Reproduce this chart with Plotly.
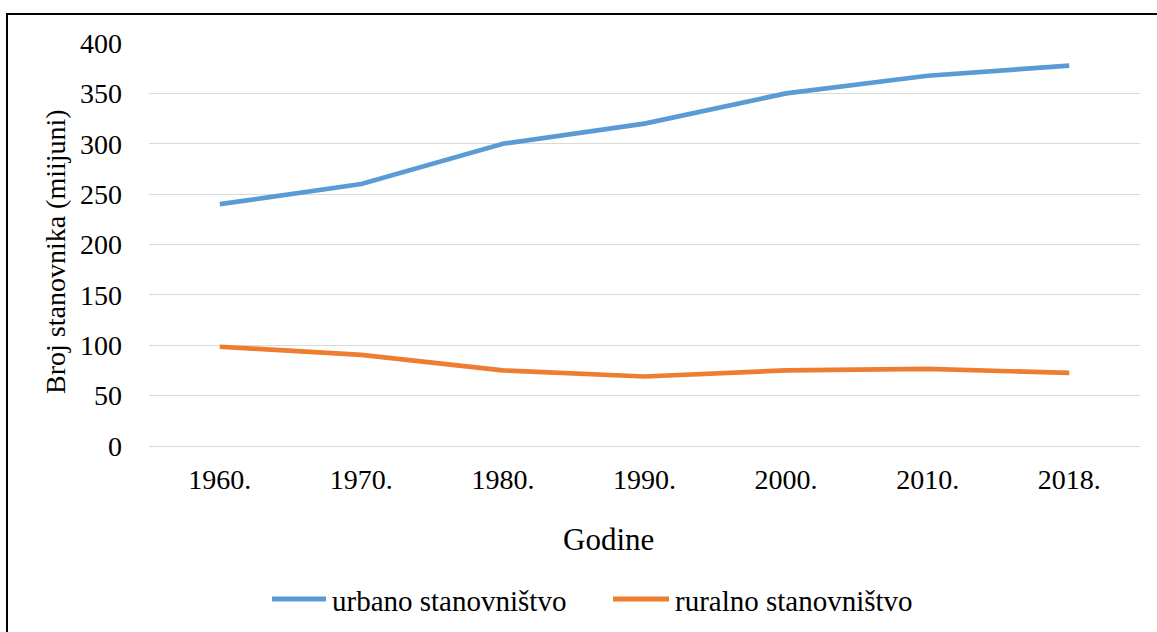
import plotly.graph_objects as go

# Population data (millions)
years = ["1960.", "1970.", "1980.", "1990.", "2000.", "2010.", "2018."]
urban = [240, 260, 300, 320, 350, 367.5, 377.5]
rural = [98.5, 90.5, 75, 69, 75, 76.5, 72.5]
y_ticks = [0, 50, 100, 150, 200, 250, 300, 350, 400]
series_names = ["urbano stanovništvo", "ruralno stanovništvo"]
series_colors = ["#5B9BD5", "#ED7D31"]

FONT = "Times New Roman"
W, H = 1157, 632
L, R, T, B = 149, 17, 43, 186
pw, ph = W - L - R, H - T - B


def px_x(p):
    return (p - L) / pw


def px_y(p):
    return (H - B - p) / ph


fig = go.Figure()
for name, vals, col in zip(series_names, [urban, rural], series_colors):
    fig.add_trace(go.Scatter(x=years, y=vals, mode="lines", name=name,
                             line=dict(color=col, width=4.7), showlegend=False))

# Legend drawn as line samples with labels underneath the plot
legend_items = [(272, 326, 330), (613, 669, 673)]
shapes = []
annotations = []
for (lx0, lx1, tx), name, col in zip(legend_items, series_names, series_colors):
    shapes.append(dict(type="line", xref="paper", yref="paper",
                       x0=px_x(lx0), x1=px_x(lx1), y0=px_y(599), y1=px_y(599),
                       line=dict(color=col, width=5)))
    annotations.append(dict(text=name, xref="paper", yref="paper",
                            x=px_x(tx), y=px_y(601), xanchor="left", yanchor="middle",
                            showarrow=False, font=dict(family=FONT, size=29)))

annotations += [
    dict(text="Broj stanovnika (miijuni)", xref="paper", yref="paper",
         x=px_x(55), y=px_y(252), xanchor="center", yanchor="middle",
         textangle=-90, showarrow=False, font=dict(family=FONT, size=28)),
    dict(text="Godine", xref="paper", yref="paper",
         x=px_x(608), y=px_y(539), xanchor="center", yanchor="middle",
         showarrow=False, font=dict(family=FONT, size=31)),
]

# Outer frame
shapes.append(dict(type="rect", xref="paper", yref="paper",
                   x0=px_x(7), x1=px_x(1170), y0=px_y(650), y1=px_y(14),
                   line=dict(color="black", width=2), fillcolor="rgba(0,0,0,0)",
                   layer="above"))

fig.update_layout(
    width=W, height=H,
    margin=dict(l=L, r=R, t=T, b=B, pad=0),
    paper_bgcolor="white", plot_bgcolor="white",
    font=dict(family=FONT, color="black", size=28),
    showlegend=False,
    xaxis=dict(type="category", range=[-0.5, 6.5], showgrid=False, zeroline=False,
               showline=False, ticks="", tickfont=dict(family=FONT, size=28),
               ticklabelstandoff=14),
    yaxis=dict(range=[0, 400], tickvals=y_ticks, showgrid=True, gridcolor="#d9d9d9",
               gridwidth=1, zeroline=True, zerolinecolor="#d9d9d9", zerolinewidth=1,
               showline=False, ticks="", tickfont=dict(family=FONT, size=28),
               ticklabelstandoff=26),
    annotations=annotations,
    shapes=shapes,
)

fig.write_html("out.html")
